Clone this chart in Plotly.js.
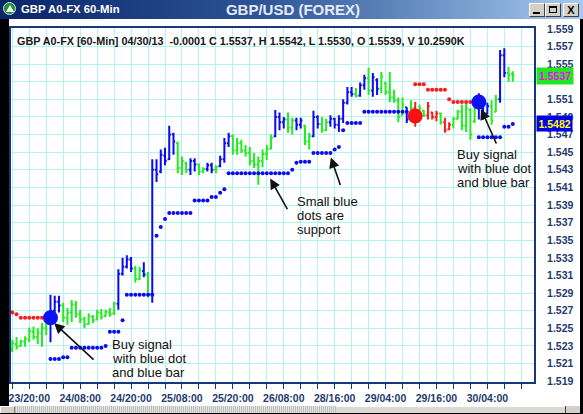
<!DOCTYPE html>
<html>
<head>
<meta charset="utf-8">
<script src="https://cdn.plot.ly/plotly-3.0.1.min.js"></script>
<style>
  html, body { margin: 0; padding: 0; background: #000; }
  #win { position: relative; width: 583px; height: 414px; background: #000; overflow: hidden;
         font-family: "Liberation Sans", Arial, sans-serif; }
  #titlebar { position: absolute; left: 0; top: 0; width: 583px; height: 19px;
              background: linear-gradient(to right, #0a246a 0%, #2d5596 45%, #a6caf0 100%); }
  #icon { position: absolute; left: 3px; top: 2px; width: 13px; height: 13px; border-radius: 50%;
          background: #1f8f3c; border: 1px solid #cfe8d4; box-sizing: border-box; }
  #icon:after { content: ""; position: absolute; left: 2px; top: 2px; width: 0; height: 0;
                border-left: 4px solid transparent; border-right: 4px solid transparent;
                border-bottom: 7px solid #fff; }
  #wname { position: absolute; left: 21px; top: 3px; color: #fff; font-weight: bold; font-size: 11.3px;
           line-height: 13px; white-space: nowrap; }
  #wtitle { position: absolute; left: 0; width: 586px; top: 1px; text-align: center; color: #e4ebf7;
            font-weight: bold; font-size: 15px; line-height: 17px; white-space: nowrap; }
  .btn { position: absolute; top: 3px; width: 16px; height: 14px; background: #d4d0c8; box-sizing: border-box;
         border-top: 1px solid #fff; border-left: 1px solid #fff; border-right: 1px solid #404040;
         border-bottom: 1px solid #404040; color: #000; font-weight: bold; font-size: 11px;
         line-height: 12px; text-align: center; }
  #bmin { left: 529px; }
  #bmax { left: 545px; }
  #bcls { left: 563px; }
  #bmin:after { content: ""; position: absolute; left: 3px; top: 8px; width: 7px; height: 2px; background: #000; }
  #bmax:after { content: ""; position: absolute; left: 3px; top: 2px; width: 8px; height: 7px;
                border: 1px solid #000; border-top-width: 2px; box-sizing: border-box; }
  #client { position: absolute; left: 9px; top: 19px; width: 571px; height: 387px; background: #fff; }
  #scroll { position: absolute; left: 0; top: 406px; width: 580px; height: 7px; background: #d4d0c8; }
  #strack { position: absolute; left: 15px; top: 0; width: 321px; height: 7px;
            background: repeating-linear-gradient(90deg, #bcbcbc 0 1px, #e6e6e6 1px 2px); }
  #sthumb { position: absolute; left: 336px; top: 0; width: 229px; height: 7px; background: #dcdad4;
            border-top: 1px solid #fff; box-sizing: border-box; }
  #sbtn { position: absolute; left: 0; top: 0; width: 15px; height: 7px; background: #d4d0c8;
          border-top: 1px solid #fff; border-left: 1px solid #fff; border-right: 1px solid #808080; box-sizing: border-box; }
  #smark { position: absolute; left: 565px; top: 0; width: 1px; height: 7px; background: #404040; }
  #chart { position: absolute; left: 0; top: 0; width: 583px; height: 414px; }
</style>
</head>
<body>
<div id="win">
  <div id="titlebar">
    <div id="icon"></div>
    <div id="wname">GBP A0-FX 60-Min</div>
    <div id="wtitle">GBP/USD (FOREX)</div>
    <div class="btn" id="bmin"></div>
    <div class="btn" id="bmax"></div>
    <div class="btn" id="bcls">X</div>
  </div>
  <div id="client"></div>
  <div id="scroll"><div id="sbtn"></div><div id="strack"></div><div id="sthumb"></div><div id="smark"></div></div>
  <div id="chart"></div>
</div>
<script>
// Hourly GBP/USD bars, 23 Apr 20:00 to 30 Apr 04:00 (one entry per bar)
const barOpen = [
  1.5226,1.5232,1.5230,1.5235,1.5237,1.5246,1.5240,1.5244,1.5250,1.5256,
  1.5270,1.5280,1.5276,1.5262,1.5268,1.5277,1.5266,1.5260,1.5255,1.5263,
  1.5260,1.5268,1.5264,1.5268,1.5267,1.5278,1.5312,1.5320,1.5328,1.5318,
  1.5306,1.5315,1.5311,1.5289,1.5430,1.5428,1.5446,1.5442,1.5470,1.5460,
  1.5432,1.5438,1.5430,1.5440,1.5436,1.5428,1.5431,1.5435,1.5430,1.5434,
  1.5442,1.5460,1.5468,1.5452,1.5460,1.5452,1.5449,1.5440,1.5436,1.5440,
  1.5448,1.5454,1.5468,1.5490,1.5484,1.5487,1.5478,1.5486,1.5481,1.5480,
  1.5462,1.5468,1.5490,1.5482,1.5475,1.5484,1.5488,1.5481,1.5488,1.5506,
  1.5518,1.5516,1.5514,1.5526,1.5534,1.5520,1.5532,1.5522,1.5528,1.5518,
  1.5512,1.5509,1.5492,1.5501,1.5491,1.5500,1.5490,1.5497,1.5492,1.5495,
  1.5490,1.5494,1.5484,1.5476,1.5481,1.5488,1.5496,1.5480,1.5498,1.5485,
  1.5500,1.5500,1.5494,1.5502,1.5496,1.5510,1.5560,1.5540,1.5539
];
const barHigh = [
  1.5237,1.5240,1.5237,1.5241,1.5251,1.5252,1.5250,1.5256,1.5259,1.5288,
  1.5287,1.5287,1.5279,1.5273,1.5282,1.5281,1.5271,1.5263,1.5267,1.5265,
  1.5271,1.5272,1.5271,1.5273,1.5280,1.5317,1.5330,1.5333,1.5331,1.5321,
  1.5320,1.5325,1.5314,1.5442,1.5442,1.5453,1.5455,1.5480,1.5472,1.5462,
  1.5445,1.5439,1.5443,1.5443,1.5437,1.5433,1.5438,1.5438,1.5435,1.5446,
  1.5466,1.5472,1.5470,1.5466,1.5464,1.5458,1.5456,1.5449,1.5445,1.5453,
  1.5458,1.5470,1.5498,1.5495,1.5490,1.5495,1.5489,1.5489,1.5489,1.5481,
  1.5472,1.5497,1.5492,1.5490,1.5488,1.5492,1.5489,1.5492,1.5510,1.5524,
  1.5524,1.5523,1.5529,1.5538,1.5546,1.5540,1.5534,1.5541,1.5530,1.5541,
  1.5521,1.5512,1.5512,1.5501,1.5509,1.5507,1.5504,1.5498,1.5507,1.5496,
  1.5497,1.5495,1.5489,1.5484,1.5490,1.5498,1.5504,1.5506,1.5500,1.5504,
  1.5517,1.5504,1.5506,1.5509,1.5515,1.5566,1.5568,1.5547,1.5542
];
const barLow = [
  1.5223,1.5226,1.5229,1.5229,1.5234,1.5237,1.5232,1.5229,1.5242,1.5234,
  1.5256,1.5268,1.5257,1.5254,1.5257,1.5262,1.5256,1.5250,1.5254,1.5256,
  1.5259,1.5260,1.5263,1.5263,1.5265,1.5271,1.5310,1.5318,1.5314,1.5302,
  1.5305,1.5308,1.5285,1.5279,1.5416,1.5426,1.5435,1.5441,1.5447,1.5426,
  1.5424,1.5426,1.5424,1.5428,1.5424,1.5426,1.5428,1.5426,1.5426,1.5433,
  1.5438,1.5456,1.5447,1.5447,1.5449,1.5445,1.5435,1.5432,1.5413,1.5433,
  1.5441,1.5453,1.5467,1.5475,1.5477,1.5472,1.5470,1.5475,1.5477,1.5458,
  1.5453,1.5467,1.5477,1.5472,1.5474,1.5479,1.5477,1.5473,1.5483,1.5504,
  1.5513,1.5512,1.5513,1.5521,1.5515,1.5513,1.5515,1.5517,1.5515,1.5507,
  1.5506,1.5484,1.5492,1.5483,1.5490,1.5479,1.5489,1.5490,1.5487,1.5487,
  1.5485,1.5481,1.5472,1.5475,1.5477,1.5487,1.5475,1.5473,1.5464,1.5483,
  1.5487,1.5487,1.5493,1.5481,1.5496,1.5506,1.5535,1.5530,1.5530
];
const barClose = [
  1.5233,1.5229,1.5235,1.5238,1.5247,1.5240,1.5245,1.5250,1.5256,1.5270,
  1.5280,1.5276,1.5262,1.5268,1.5277,1.5266,1.5260,1.5254,1.5264,1.5259,
  1.5268,1.5263,1.5269,1.5266,1.5278,1.5312,1.5320,1.5328,1.5318,1.5306,
  1.5316,1.5311,1.5289,1.5430,1.5425,1.5447,1.5440,1.5470,1.5462,1.5432,
  1.5440,1.5430,1.5440,1.5436,1.5428,1.5431,1.5435,1.5430,1.5433,1.5442,
  1.5460,1.5468,1.5452,1.5460,1.5452,1.5449,1.5440,1.5436,1.5440,1.5448,
  1.5454,1.5466,1.5490,1.5484,1.5487,1.5478,1.5486,1.5481,1.5486,1.5462,
  1.5468,1.5490,1.5482,1.5475,1.5484,1.5488,1.5481,1.5488,1.5506,1.5518,
  1.5516,1.5514,1.5526,1.5534,1.5520,1.5535,1.5522,1.5536,1.5518,1.5512,
  1.5509,1.5490,1.5504,1.5487,1.5500,1.5490,1.5500,1.5492,1.5502,1.5490,
  1.5494,1.5484,1.5475,1.5481,1.5488,1.5496,1.5480,1.5500,1.5470,1.5500,
  1.5505,1.5490,1.5502,1.5486,1.5510,1.5560,1.5540,1.5538,1.5537
];
// Bar colouring state: B = blue (long), G = green (neutral), R = red (short)
const barSignal = [
  'G','G','G','G','G','G','G','G','G','B',
  'B','B','G','G','G','G','G','G','G','G',
  'G','G','G','G','G','B','B','B','B','G',
  'G','B','G','B','B','B','B','B','B','G',
  'G','G','B','B','G','G','B','B','G','B',
  'B','B','G','G','G','G','G','G','G','G',
  'G','G','B','B','B','G','G','B','B','G',
  'G','B','B','G','G','B','B','B','B','B',
  'B','G','B','B','G','B','B','G','G','G',
  'G','G','G','B','G','R','G','G','R','R',
  'R','G','R','R','G','G','G','G','G','G',
  'B','B','B','G','G','B','B','G','G'
];
// Trailing support level (small blue dots), one per bar
const supportLevel = [
  null,null,null,null,null,null,null,null,null,1.5215,
  1.5215,1.5215,1.5217,1.5217,1.5228,1.5228,1.5228,1.5228,1.5228,1.5228,
  1.5228,1.5228,1.5230,1.5246,1.5246,1.5246,1.5259,1.5288,1.5288,1.5288,
  1.5288,1.5288,1.5288,1.5288,1.5355,1.5365,1.5374,1.5381,1.5381,1.5381,
  1.5381,1.5381,1.5381,1.5395,1.5395,1.5395,1.5395,1.5399,1.5399,1.5404,
  1.5408,1.5426,1.5426,1.5426,1.5426,1.5426,1.5426,1.5426,1.5426,1.5426,
  1.5426,1.5426,1.5426,1.5426,1.5426,1.5426,1.5430,1.5438,1.5439,1.5439,
  1.5439,1.5449,1.5449,1.5449,1.5449,1.5449,1.5453,1.5456,1.5475,1.5483,
  1.5483,1.5483,1.5483,1.5496,1.5496,1.5496,1.5496,1.5496,1.5496,1.5496,
  1.5496,1.5496,1.5496,1.5496,null,null,null,null,null,null,
  null,null,null,null,null,null,null,null,null,null,
  1.5467,1.5467,1.5467,1.5467,1.5467,1.5467,1.5479,1.5479,1.5482
];
// Trailing resistance level (small red dots)
const resistBar   = [0, 1, 2, 3, 4, 5, 6, 7, 8, 95, 96, 97, 98, 99, 100, 101, 102, 103, 104, 105, 106, 107, 108];
const resistLevel = [1.5268, 1.5266, 1.5262, 1.5262, 1.5262, 1.5262, 1.5262, 1.5262, 1.5262,
                     1.5527, 1.5527, 1.5527, 1.5521, 1.5521, 1.5521, 1.5521, 1.5521, 1.5510,
                     1.5507, 1.5507, 1.5507, 1.5507, 1.5507];
// Signal dots
const buyBar = [9, 110];
const buyPrice = [1.5262, 1.5507];
const sellBar = [95];
const sellPrice = [1.5491];

// Axis labels
const xLabelBar = [4, 16, 28, 40, 52, 64, 76, 88, 100, 112];
const xLabelText = ['23/20:00', '24/08:00', '24/20:00', '25/08:00', '25/20:00',
                    '26/08:00', '28/16:00', '29/04:00', '29/16:00', '30/04:00'];
const yTickValues = [1.519, 1.521, 1.523, 1.525, 1.527, 1.529, 1.531, 1.533, 1.535, 1.537,
                     1.539, 1.541, 1.543, 1.545, 1.547, 1.549, 1.551, 1.553, 1.555, 1.557, 1.559];
const headerText = 'GBP A0-FX [60-Min] 04/30/13  -0.0001 C 1.5537, H 1.5542, L 1.5530, O 1.5539, V 10.2590K';

const FONT = '"Liberation Sans", Arial, sans-serif';
const AXIS_BLUE = '#15387a';
const LABEL_BLUE = '#1e3a70';
const GRID = '#b2f2f2';
const COLORS = { B: '#0b0bf2', G: '#22ec22', R: '#ff1a1a' };

const nBars = barClose.length;

function ohlcFor(sig) {
  const xs = [], o = [], h = [], l = [], c = [];
  for (let i = 0; i < nBars; i++) {
    if (barSignal[i] !== sig) continue;
    xs.push(i); o.push(barOpen[i]); h.push(barHigh[i]); l.push(barLow[i]); c.push(barClose[i]);
  }
  return {
    type: 'ohlc', x: xs, open: o, high: h, low: l, close: c,
    increasing: { line: { color: COLORS[sig], width: 2 } },
    decreasing: { line: { color: COLORS[sig], width: 2 } },
    tickwidth: 0.4, hoverinfo: 'skip', showlegend: false
  };
}

const barIndex = barClose.map((_, i) => i);
const lastClose = barClose[nBars - 1];
const lastSupport = supportLevel[nBars - 1];

const traces = [
  ohlcFor('G'), ohlcFor('B'), ohlcFor('R'),
  { type: 'scatter', mode: 'markers', x: barIndex, y: supportLevel,
    marker: { size: 4, color: COLORS.B }, hoverinfo: 'skip', showlegend: false },
  { type: 'scatter', mode: 'markers', x: resistBar, y: resistLevel,
    marker: { size: 4, color: COLORS.R }, hoverinfo: 'skip', showlegend: false },
  { type: 'scatter', mode: 'markers', x: buyBar, y: buyPrice,
    marker: { size: 15, color: '#0a14f2' }, hoverinfo: 'skip', showlegend: false },
  { type: 'scatter', mode: 'markers', x: sellBar, y: sellPrice,
    marker: { size: 15, color: '#f41212' }, hoverinfo: 'skip', showlegend: false }
];

// x ticks every 4 bars, labelled every 12
const xTickVals = [], xTickText = [];
for (let i = 0; i <= 120; i += 4) {
  xTickVals.push(i);
  const k = xLabelBar.indexOf(i);
  xTickText.push(k >= 0 ? xLabelText[k] : '');
}

// the price tag for the last close sits over the 1.553 level, so that label is left blank
const yTickText = yTickValues.map(v => (Math.abs(v - 1.553) < 1e-9 ? '' : v.toFixed(3)));

function note(x, y, text) {
  return { x: x, y: y, xref: 'x', yref: 'y', text: text, showarrow: false,
           xanchor: 'left', yanchor: 'middle',
           font: { family: FONT, size: 13, color: '#111' } };
}
function arrow(x, y, ax, ay) {
  return { x: x, y: y, xref: 'x', yref: 'y', text: '', showarrow: true,
           ax: ax, ay: ay, arrowhead: 2, arrowsize: 1.3, arrowwidth: 1.6, arrowcolor: '#111', standoff: 0 };
}

const annotations = [
  { x: 0.0076, y: 0.9633, xref: 'paper', yref: 'paper', text: headerText, showarrow: false,
    xanchor: 'left', yanchor: 'middle', font: { family: FONT, size: 10.8, color: '#161616', weight: 'bold' } },
  note(23.0, 1.5232, 'Buy signal'), note(23.0, 1.5216, 'with blue dot'), note(23.0, 1.5200, 'and blue bar'),
  note(66.7, 1.5394, 'Small blue'), note(66.7, 1.5378, 'dots are'), note(66.7, 1.5362, 'support'),
  note(104.4, 1.5447, 'Buy signal'), note(104.4, 1.5431, 'with blue dot'), note(104.4, 1.5415, 'and blue bar'),
  arrow(9.84, 1.5256, 41, 38),
  arrow(60.8, 1.5420, 18, 32),
  arrow(75.1, 1.5444, 10, 29),
  arrow(110.5, 1.5499, 16, 36),
  { x: 1, y: lastClose, xref: 'paper', yref: 'y', text: lastClose.toFixed(4), showarrow: false,
    xanchor: 'left', yanchor: 'middle', xshift: 2, bgcolor: '#22e622', borderpad: 2,
    font: { family: FONT, size: 10.5, color: '#ff00ff', weight: 'bold' } },
  { x: 1, y: lastSupport, xref: 'paper', yref: 'y', text: lastSupport.toFixed(4), showarrow: false,
    xanchor: 'left', yanchor: 'middle', xshift: 2, bgcolor: '#0000e6', borderpad: 1.5,
    font: { family: FONT, size: 10.5, color: '#ffff00', weight: 'bold' } }
];

const layout = {
  width: 583, height: 414,
  margin: { l: 11, r: 49, t: 28, b: 32, pad: 0 },
  paper_bgcolor: 'rgba(0,0,0,0)', plot_bgcolor: '#ffffff',
  showlegend: false, hovermode: false, dragmode: false,
  xaxis: {
    type: 'linear', range: [-0.31, 123.0], tickmode: 'array', tickvals: xTickVals, ticktext: xTickText,
    ticks: 'outside', ticklen: 5, tickwidth: 1, tickcolor: AXIS_BLUE,
    showgrid: true, gridcolor: GRID, gridwidth: 1, zeroline: false,
    showline: true, linecolor: AXIS_BLUE, linewidth: 2, mirror: true,
    rangeslider: { visible: false }, fixedrange: true,
    tickfont: { family: FONT, size: 10.5, color: LABEL_BLUE, weight: 'bold' }
  },
  yaxis: {
    side: 'right', range: [1.5189, 1.5591], tickmode: 'array', tickvals: yTickValues,
    ticktext: yTickText, ticks: '', ticklabelstandoff: 9,
    showgrid: true, gridcolor: GRID, gridwidth: 1, zeroline: false,
    showline: true, linecolor: AXIS_BLUE, linewidth: 2, mirror: true, fixedrange: true,
    tickfont: { family: FONT, size: 10.5, color: LABEL_BLUE, weight: 'bold' }
  },
  annotations: annotations
};

Plotly.newPlot('chart', traces, layout, { displayModeBar: false, staticPlot: true });
</script>
</body>
</html>
